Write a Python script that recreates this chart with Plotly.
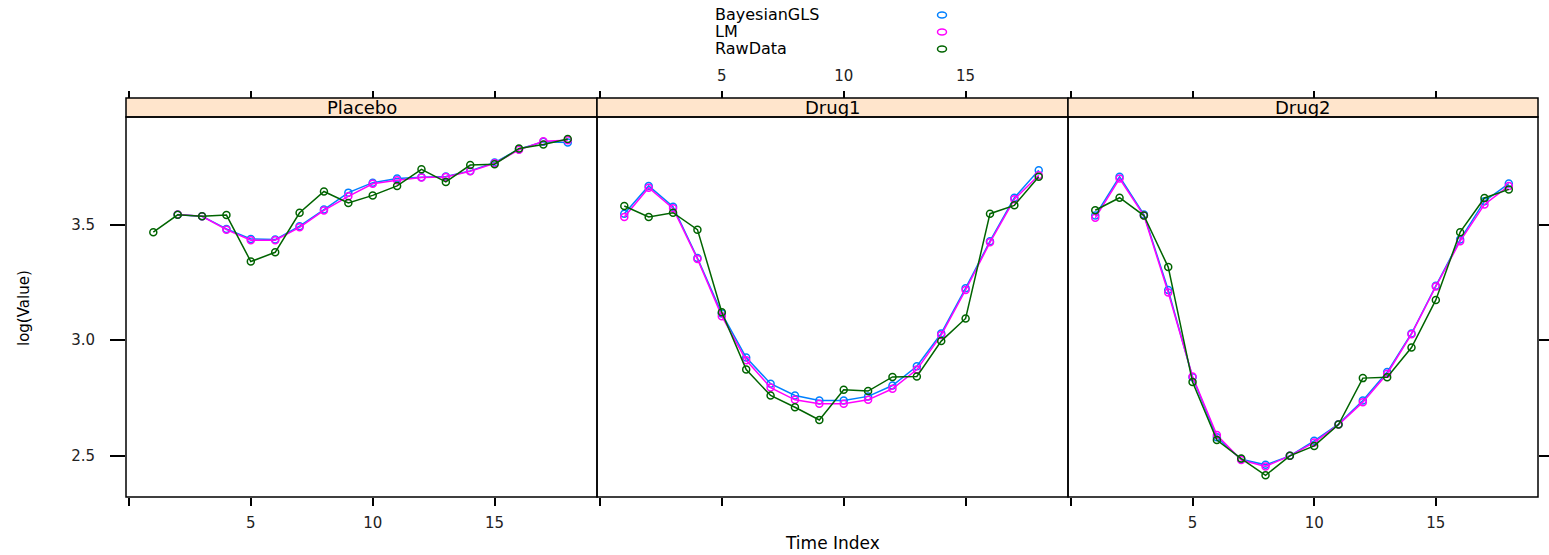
import plotly.graph_objects as go

W, H = 1549, 555

time_index = list(range(1, 19))
panels = ["Placebo", "Drug1", "Drug2"]
series_names = ["BayesianGLS", "LM", "RawData"]
series_colors = ["#0080ff", "#ff00ff", "#006400"]

placebo_gls = [None, 3.542, 3.536, 3.481, 3.438, 3.435, 3.493, 3.565, 3.638, 3.681, 3.699, 3.705, 3.708, 3.732, 3.768, 3.826, 3.858, 3.855]
placebo_lm = [None, 3.543, 3.536, 3.478, 3.432, 3.432, 3.488, 3.561, 3.622, 3.676, 3.692, 3.703, 3.706, 3.730, 3.765, 3.823, 3.860, 3.865]
placebo_raw = [3.467, 3.542, 3.536, 3.541, 3.340, 3.380, 3.551, 3.643, 3.593, 3.626, 3.667, 3.739, 3.684, 3.757, 3.761, 3.829, 3.846, 3.870]

drug1_gls = [3.547, 3.667, 3.577, 3.355, 3.115, 2.925, 2.812, 2.761, 2.739, 2.739, 2.757, 2.804, 2.887, 3.029, 3.225, 3.428, 3.616, 3.735]
drug1_lm = [3.533, 3.659, 3.570, 3.351, 3.104, 2.913, 2.795, 2.742, 2.725, 2.725, 2.742, 2.790, 2.873, 3.022, 3.217, 3.423, 3.609, 3.713]
drug1_raw = [3.580, 3.533, 3.551, 3.478, 3.121, 2.873, 2.761, 2.710, 2.655, 2.786, 2.780, 2.841, 2.843, 2.996, 3.094, 3.547, 3.583, 3.707]

drug2_gls = [3.539, 3.707, 3.543, 3.217, 2.840, 2.580, 2.485, 2.461, 2.500, 2.565, 2.637, 2.739, 2.862, 3.029, 3.235, 3.435, 3.601, 3.677]
drug2_lm = [3.529, 3.699, 3.539, 3.206, 2.843, 2.590, 2.482, 2.454, 2.500, 2.558, 2.635, 2.732, 2.855, 3.026, 3.232, 3.428, 3.587, 3.667]
drug2_raw = [3.562, 3.616, 3.539, 3.316, 2.819, 2.568, 2.488, 2.416, 2.500, 2.543, 2.635, 2.836, 2.840, 2.968, 3.174, 3.467, 3.615, 3.652]

x_tickvals = [0, 5, 10, 15]
x_ticktext = ["", "5", "10", "15"]
y_tickvals = [2.5, 3.0, 3.5]
y_ticktext = ["2.5", "3.0", "3.5"]

panel_data = {
    "Placebo": [placebo_gls, placebo_lm, placebo_raw],
    "Drug1": [drug1_gls, drug1_lm, drug1_raw],
    "Drug2": [drug2_gls, drug2_lm, drug2_raw],
}

FONT = "DejaVu Sans"
XR = [-0.12, 19.2]
YR = [2.322, 3.965]

# panel pixel geometry
px_left = [126, 597, 1068]
px_right = [597, 1068, 1538]
plot_top, plot_bot = 117, 497
strip_top = 98

def fx(p):
    return p / W

def fy(p):
    return 1 - p / H

fig = go.Figure()

for i, pname in enumerate(panels):
    xa = "x" if i == 0 else f"x{i+1}"
    for name, color, vals in zip(series_names, series_colors, panel_data[pname]):
        fig.add_trace(go.Scatter(
            x=time_index, y=vals, xaxis=xa, yaxis="y",
            mode="lines+markers", name=name, showlegend=False,
            connectgaps=False,
            line=dict(color=color, width=1.5),
            marker=dict(symbol="circle-open", size=7, color=color, line=dict(width=1.5, color=color)),
        ))

# empty traces so that the extra (top / right) axes get drawn
for i in range(3):
    fig.add_trace(go.Scatter(x=[None], y=[None], xaxis=f"x{i+4}", yaxis="y",
                             mode="markers", showlegend=False, hoverinfo="skip"))
fig.add_trace(go.Scatter(x=[None], y=[None], xaxis="x3", yaxis="y2",
                         mode="markers", showlegend=False, hoverinfo="skip"))

layout = dict(
    width=W, height=H,
    margin=dict(l=0, r=0, t=0, b=0),
    paper_bgcolor="white", plot_bgcolor="white",
    font=dict(family=FONT, color="black", size=15),
    showlegend=False,
)

tick_common = dict(ticks="outside", tickcolor="black", tickwidth=1.5,
                   showgrid=False, zeroline=False, showline=False,
                   tickfont=dict(family=FONT, size=15, color="#222222"))

shapes = []
annotations = []
for i, pname in enumerate(panels):
    key = "xaxis" if i == 0 else f"xaxis{i+1}"
    xref = "x" if i == 0 else f"x{i+1}"
    dom = [fx(px_left[i]), fx(px_right[i])]
    layout[key] = dict(domain=dom, anchor="y", range=XR, tickvals=x_tickvals,
                       ticktext=x_ticktext, ticklen=8,
                       showticklabels=(i != 1), ticklabelstandoff=4, **tick_common)
    # top axis above strip
    topkey = f"xaxis{i+4}"
    layout[topkey] = dict(domain=dom, anchor="free", position=fy(strip_top), side="top",
                          overlaying=xref, range=XR, tickvals=x_tickvals,
                          ticktext=x_ticktext, ticklen=7,
                          showticklabels=(i == 1), ticklabelstandoff=4, **tick_common)
    # panel border
    dref = ("x" if i == 0 else f"x{i+1}") + " domain"
    shapes.append(dict(type="rect", xref=dref, yref="y domain", x0=0, x1=1, y0=0, y1=1,
                       line=dict(color="black", width=1.5), fillcolor="rgba(0,0,0,0)", layer="above"))
    # strip
    shapes.append(dict(type="rect", xref=dref, yref="paper", x0=0, x1=1,
                       y0=fy(plot_top), y1=fy(strip_top),
                       line=dict(color="black", width=1.5), fillcolor="#ffe5cc", layer="below"))
    annotations.append(dict(text=pname, xref=dref, yref="paper", x=0.5,
                            y=fy((plot_top + strip_top) / 2), showarrow=False,
                            xanchor="center", yanchor="middle",
                            font=dict(family=FONT, size=18, color="black")))

layout["yaxis"] = dict(domain=[fy(plot_bot), fy(plot_top)], anchor="x", range=YR,
                       tickvals=y_tickvals, ticktext=y_ticktext, ticklen=15,
                       ticklabelstandoff=12, **tick_common)
layout["yaxis2"] = dict(domain=[fy(plot_bot), fy(plot_top)], anchor="free",
                        position=fx(px_right[2]), side="right", overlaying="y",
                        range=YR, tickvals=y_tickvals, ticklen=12,
                        showticklabels=False, **tick_common)

# axis titles
annotations.append(dict(text="Time Index", xref="paper", yref="paper",
                        x=fx(832), y=fy(543), showarrow=False,
                        xanchor="center", yanchor="middle",
                        font=dict(family=FONT, size=17, color="black")))
annotations.append(dict(text="log(Value)", xref="paper", yref="paper",
                        x=fx(24), y=fy(308), showarrow=False, textangle=-90,
                        xanchor="center", yanchor="middle",
                        font=dict(family=FONT, size=15, color="black")))

# legend (key)
legend_y = [15, 32, 49]
for name, color, ly in zip(series_names, series_colors, legend_y):
    annotations.append(dict(text=name, xref="paper", yref="paper",
                            x=fx(713), y=fy(ly), showarrow=False,
                            xanchor="left", yanchor="middle",
                            font=dict(family=FONT, size=16, color="black")))
    shapes.append(dict(type="circle", xref="paper", yref="paper",
                       xsizemode="pixel", ysizemode="pixel",
                       xanchor=fx(942), yanchor=fy(ly),
                       x0=-4.5, x1=4.5, y0=-3, y1=3,
                       line=dict(color=color, width=1.5), fillcolor="rgba(0,0,0,0)"))

layout["shapes"] = shapes
layout["annotations"] = annotations
fig.update_layout(**layout)

fig.write_html("out.html")
